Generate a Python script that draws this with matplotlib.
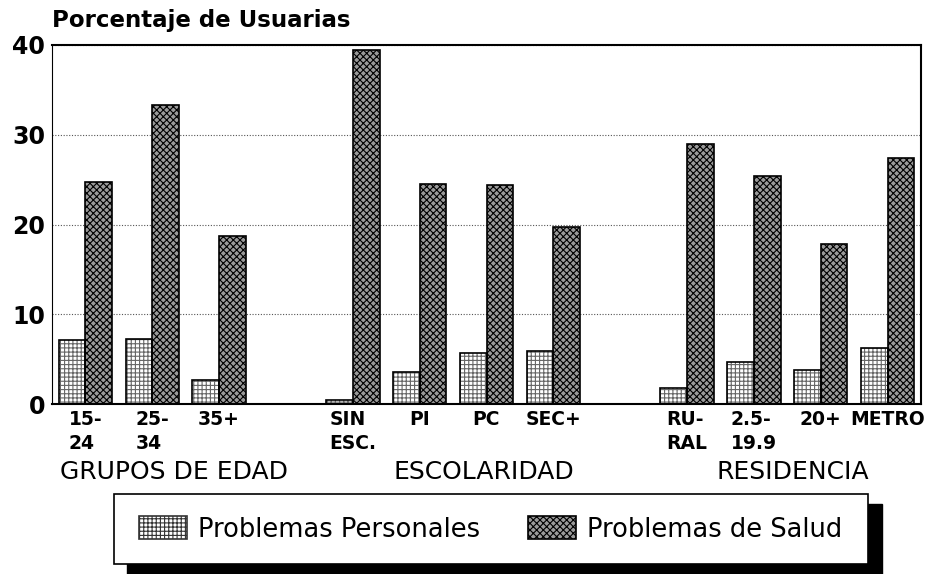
import numpy as np
import matplotlib
matplotlib.use("Agg")
from matplotlib import pyplot as plt
from matplotlib.patches import Rectangle, Patch

# datos
etiquetas = ["15-\n24", "25-\n34", "35+", "SIN\nESC.", "PI", "PC", "SEC+",
             "RU-\nRAL", "2.5-\n19.9", "20+", "METRO"]
posiciones = [0, 1, 2, 4, 5, 6, 7, 9, 10, 11, 12]
personales = [7.1, 7.2, 2.7, 0.5, 3.6, 5.7, 5.9, 1.8, 4.7, 3.8, 6.2]
salud = [24.7, 33.3, 18.7, 39.4, 24.5, 24.4, 19.7, 29.0, 25.4, 17.8, 27.4]
grupos = ["GRUPOS DE EDAD", "ESCOLARIDAD", "RESIDENCIA"]
grupos_x = [1.32, 5.96, 10.58]

plt.rcParams["font.family"] = ["DejaVu Sans"]
plt.rcParams["hatch.linewidth"] = 0.8

W, H = 932, 574
fig = plt.figure(figsize=(W / 100, H / 100), dpi=100)
ax = fig.add_axes([52 / W, 1 - 404 / H, 869 / W, 359 / H])

x = np.array(posiciones)
ancho = 0.4
# relleno con trama
ax.bar(x - ancho / 2, personales, ancho, facecolor="white", edgecolor="#666666",
       hatch="++++", linewidth=0)
ax.bar(x + ancho / 2, salud, ancho, facecolor="#9a9a9a", edgecolor="black",
       hatch="xxxxx", linewidth=0)
# contornos
ax.bar(x - ancho / 2, personales, ancho, facecolor="none", edgecolor="black", linewidth=1.2)
ax.bar(x + ancho / 2, salud, ancho, facecolor="none", edgecolor="black", linewidth=1.2)

ax.set_xlim(-0.5, 12.5)
ax.set_ylim(0, 40)
ax.set_yticks([0, 10, 20, 30, 40])
ax.set_yticklabels(["0", "10", "20", "30", "40"], fontsize=17, fontweight="bold")
ax.set_xticks(x)
ax.set_xticklabels(etiquetas, fontsize=13.5, fontweight="bold", va="top",
                   linespacing=1.35, multialignment="left")
ax.tick_params(axis="x", length=0, pad=4)
ax.tick_params(axis="y", length=0, pad=5)
ax.yaxis.grid(True, linestyle=(0, (1, 1.5)), color="#555555", linewidth=0.8)
ax.set_axisbelow(True)
for s in ["top", "bottom", "right"]:
    ax.spines[s].set_linewidth(1.5)
ax.spines["left"].set_linewidth(0.8)
ax.spines["left"].set_linestyle((0, (1, 1)))

for g, gx in zip(grupos, grupos_x):
    ax.text(gx, -0.19, g, transform=ax.get_xaxis_transform(), ha="center",
            va="center", fontsize=18)

fig.text(52 / W, 1 - 20 / H, "Porcentaje de Usuarias", fontsize=16.5,
         fontweight="bold", va="center", ha="left")

# caja de la leyenda con sombra
fig.patches.append(Rectangle((127 / W, 0), 755 / W, (564 - 494) / H, transform=fig.transFigure,
                             facecolor="black", edgecolor="black", zorder=1))
fig.patches.append(Rectangle((114 / W, 10 / H), 754 / W, 70 / H, transform=fig.transFigure,
                             facecolor="white", edgecolor="black", linewidth=1.2, zorder=2))
h1 = Patch(facecolor="white", edgecolor="#333333", hatch="++++", linewidth=1.2,
           label="Problemas Personales")
h2 = Patch(facecolor="#9a9a9a", edgecolor="black", hatch="xxxxx", linewidth=1.2,
           label="Problemas de Salud")
leg = fig.legend(handles=[h1, h2], loc="center left", ncol=2,
                 bbox_to_anchor=(139 / W, 44.5 / H), frameon=False,
                 fontsize=18.5, handlelength=1.87, handleheight=0.97,
                 handletextpad=0.43, columnspacing=1.87,
                 borderpad=0, borderaxespad=0)
leg.set_zorder(3)

plt.savefig("out.png", dpi=100)
